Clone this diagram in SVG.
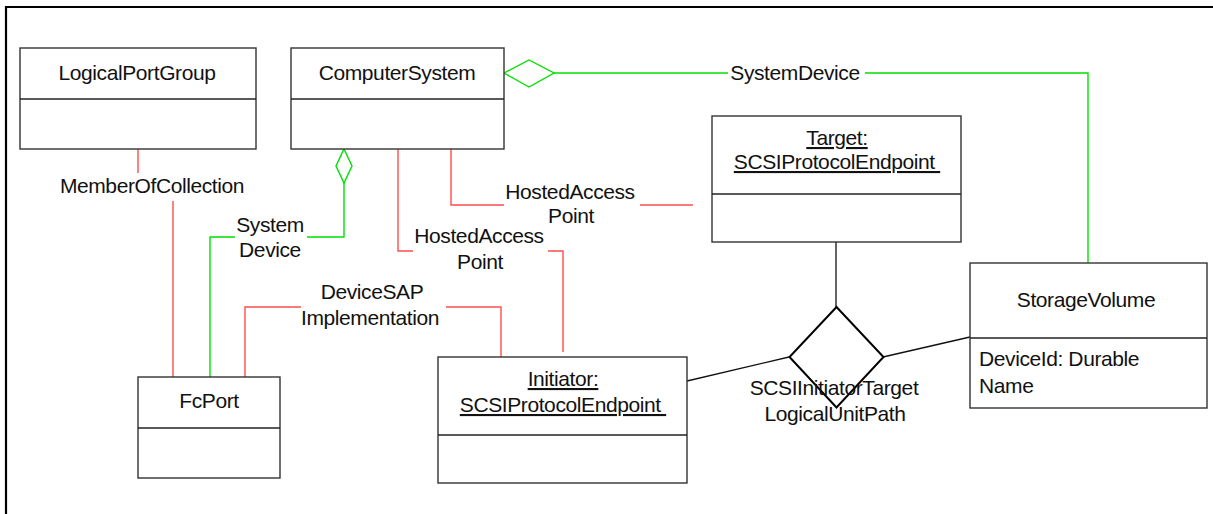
<svg xmlns="http://www.w3.org/2000/svg" width="1213" height="514" viewBox="0 0 1213 514">
<style>
text{font-family:"Liberation Sans",Arial,sans-serif;font-size:21px;letter-spacing:-0.4px;fill:#111;white-space:pre}
.c{text-anchor:middle}
.u{text-decoration:underline}
.box{fill:#fff;stroke:#333;stroke-width:1.4}
.div{stroke:#222;stroke-width:1.4}
.red{fill:none;stroke:#ff4d4d;stroke-width:1.4}
.grn{fill:none;stroke:#00e000;stroke-width:1.4}
.blk{fill:none;stroke:#111;stroke-width:1.3}
</style>
<rect width="1213" height="514" fill="#fff"/>
<path d="M6 514 V7 H1213" fill="none" stroke="#000" stroke-width="2.2"/>
<g id="connectors">
  <path class="red" d="M138 149 V173"/>
  <path class="red" d="M173 201 V377"/>
  <text class="c" x="152" y="193">MemberOfCollection</text>
  <path class="grn" d="M344 149 L352 166 L344 183 L336 166 Z"/>
  <path class="grn" d="M344 183 V237 H307"/>
  <path class="grn" d="M235 237 H210 V377"/>
  <text class="c" x="270" y="232">System</text>
  <text class="c" x="270" y="257">Device</text>
  <path class="red" d="M245 377 V307 H301"/>
  <path class="red" d="M446 307 H501 V357"/>
  <text class="c" x="372" y="299">DeviceSAP</text>
  <text class="c" x="370" y="325">Implementation</text>
  <path class="red" d="M398 149 V251 H413"/>
  <path class="red" d="M548 251 H563 V352"/>
  <text class="c" x="479" y="243">HostedAccess</text>
  <text class="c" x="480" y="269">Point</text>
  <path class="red" d="M451 149 V205 H504"/>
  <path class="red" d="M640 205 H693"/>
  <text class="c" x="570" y="199">HostedAccess</text>
  <text class="c" x="571" y="223">Point</text>
  <path class="grn" d="M504 73 L529 60 L554 73 L529 87 Z"/>
  <path class="grn" d="M554 73 H728"/>
  <path class="grn" d="M865 73 H1088 V263"/>
  <text class="c" x="795" y="80">SystemDevice</text>
  <path class="blk" d="M836 242 V307"/>
  <path class="blk" d="M687 381 L789 357"/>
  <path class="blk" d="M883 357 L970 337"/>
</g>
<g id="assoc">
  <path d="M836.5 307 L883.5 357 L836.5 407.5 L789.5 357 Z" fill="none" stroke="#000" stroke-width="2"/>
  <text class="c" x="834" y="395">SCSIInitiatorTarget</text>
  <text class="c" x="835" y="421">LogicalUnitPath</text>
</g>
<g id="LogicalPortGroup">
  <rect class="box" x="20" y="48" width="236" height="101"/>
  <line class="div" x1="20" y1="99" x2="256" y2="99"/>
  <text class="c" x="137" y="80">LogicalPortGroup</text>
</g>
<g id="ComputerSystem">
  <rect class="box" x="291" y="48" width="213" height="101"/>
  <line class="div" x1="291" y1="99" x2="504" y2="99"/>
  <text class="c" x="397" y="80">ComputerSystem</text>
</g>
<g id="FcPort">
  <rect class="box" x="138" y="377" width="142" height="101"/>
  <line class="div" x1="138" y1="428" x2="280" y2="428"/>
  <text class="c" x="209" y="408">FcPort</text>
</g>
<g id="Target">
  <rect class="box" x="712" y="116" width="249" height="126"/>
  <line class="div" x1="712" y1="194" x2="961" y2="194"/>
  <text class="c u" x="837" y="145">Target:</text>
  <text class="c u" x="837" y="169">SCSIProtocolEndpoint </text>
</g>
<g id="Initiator">
  <rect class="box" x="438" y="357" width="249" height="126"/>
  <line class="div" x1="438" y1="435" x2="687" y2="435"/>
  <text class="c u" x="563" y="386">Initiator:</text>
  <text class="c u" x="563" y="412">SCSIProtocolEndpoint </text>
</g>
<g id="StorageVolume">
  <rect class="box" x="970" y="263" width="237" height="145"/>
  <line class="div" x1="970" y1="338" x2="1207" y2="338"/>
  <text class="c" x="1086" y="307">StorageVolume</text>
  <text x="979" y="366">DeviceId: Durable</text>
  <text x="979" y="393">Name</text>
</g>
</svg>
